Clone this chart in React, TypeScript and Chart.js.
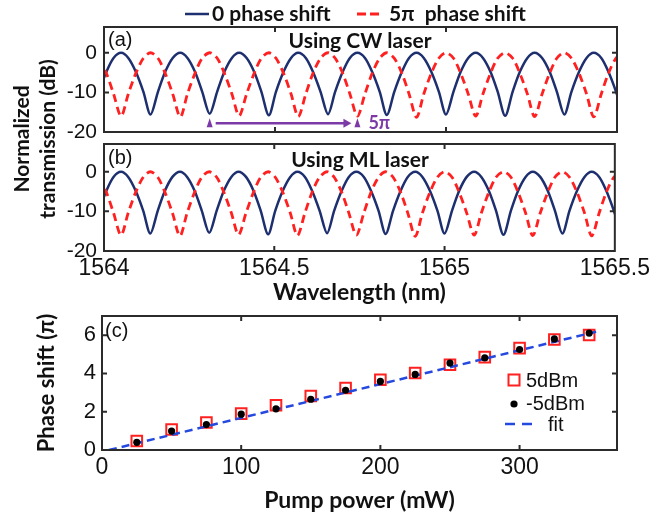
import React, { useEffect, useRef } from "react";
import { Chart, registerables } from "chart.js";
Chart.register(...registerables);

const W = 654;
const H = 514;

// ---------------- Data: panels (a) and (b) ----------------
const wavelength = [
  1563.985, 1564.007, 1564.028, 1564.050, 1564.071, 1564.093, 1564.115, 1564.136,
  1564.158, 1564.179, 1564.201, 1564.223, 1564.244, 1564.266, 1564.287, 1564.309,
  1564.331, 1564.352, 1564.374, 1564.395, 1564.417, 1564.439, 1564.460, 1564.482,
  1564.503, 1564.525, 1564.547, 1564.568, 1564.590, 1564.611, 1564.633, 1564.655,
  1564.676, 1564.698, 1564.719, 1564.741, 1564.763, 1564.784, 1564.806, 1564.827,
  1564.849, 1564.871, 1564.892, 1564.914, 1564.935, 1564.957, 1564.979, 1565.000,
  1565.022, 1565.043, 1565.065, 1565.087, 1565.108, 1565.130, 1565.151, 1565.173,
  1565.195, 1565.216, 1565.238, 1565.259, 1565.281, 1565.303, 1565.324, 1565.346,
  1565.367, 1565.389, 1565.411, 1565.432, 1565.454, 1565.475, 1565.497, 1565.519,
];

const zeroShiftDb = [
  -9.8, -4.8, -1.3, 0, -1.3, -4.8, -9.8, -15.6,
  -9.8, -4.8, -1.3, 0, -1.3, -4.8, -9.8, -15.4,
  -9.8, -4.8, -1.3, 0, -1.3, -4.8, -9.8, -15.8,
  -9.8, -4.8, -1.3, 0, -1.3, -4.8, -9.8, -15.5,
  -9.8, -4.8, -1.3, 0, -1.3, -4.8, -9.8, -15.7,
  -9.8, -4.8, -1.3, 0, -1.3, -4.8, -9.8, -15.6,
  -9.8, -4.8, -1.3, 0, -1.3, -4.8, -9.8, -15.9,
  -9.8, -4.8, -1.3, 0, -1.3, -4.8, -9.8, -15.6,
  -9.8, -4.8, -1.3, 0, -1.3, -4.8, -9.8, -15.7,
];

const fivePiShiftDb = [
  -1.4, -5.2, -10.4, -16.0, -10.4, -5.2, -1.4, 0,
  -1.4, -5.2, -10.4, -16.2, -10.4, -5.2, -1.4, 0,
  -1.4, -5.2, -10.4, -15.9, -10.4, -5.2, -1.4, 0,
  -1.4, -5.2, -10.4, -16.1, -10.4, -5.2, -1.4, 0,
  -1.4, -5.2, -10.4, -16.0, -10.4, -5.2, -1.4, 0,
  -1.4, -5.2, -10.4, -16.3, -10.4, -5.2, -1.4, 0,
  -1.4, -5.2, -10.4, -16.0, -10.4, -5.2, -1.4, 0,
  -1.4, -5.2, -10.4, -16.1, -10.4, -5.2, -1.4, 0,
  -1.4, -5.2, -10.4, -16.2, -10.4, -5.2, -1.4, 0,
];

const wavelengthTicks = [1564, 1564.5, 1565, 1565.5];
const transmissionTicks = [-20, -10, 0];
const arrowWavelengths = [1564.309, 1564.741];
const arrowLevelDb = -17.8;

// ---------------- Data: panel (c) ----------------
const pumpPower = [25, 50, 75, 100, 125, 150, 175, 200, 225, 250, 275, 300, 325, 350];
const shift5dBm = [0.47, 1.07, 1.44, 1.9, 2.34, 2.82, 3.24, 3.67, 4.02, 4.45, 4.85, 5.32, 5.77, 6.01];
const shiftMinus5dBm = [0.4, 0.99, 1.33, 1.87, 2.15, 2.65, 3.12, 3.58, 3.95, 4.54, 4.81, 5.25, 5.8, 6.11];
const fitPower = [5, 355];
const fitShift = [0, 6.18];
const pumpTicks = [0, 100, 200, 300];
const shiftTicks = [0, 2, 4, 6];

// ---------------- Styles ----------------
const NAVY = "#1d2f6f";
const RED = "#ff2020";
const PURPLE = "#7b3aa6";
const FITBLUE = "#2548de";
const FRAME = "#2b2b2b";
const TXT = "#111111";
const TICKFONT = "'Liberation Sans', Arial, sans-serif";
const BOLDFONT = "Lato, 'Liberation Sans', sans-serif";

function txt(ctx: CanvasRenderingContext2D, s: string, x: number, y: number, font: string,
  color = TXT, align: CanvasTextAlign = "left", rot = 0) {
  ctx.save();
  ctx.translate(x, y);
  if (rot) ctx.rotate(rot);
  ctx.font = font;
  ctx.fillStyle = color;
  ctx.textAlign = align;
  ctx.textBaseline = "middle";
  ctx.fillText(s, 0, 0);
  ctx.restore();
}

function drawFrame(chart: any, xTicks: number[], yTicks: number[], len = 5) {
  const { ctx, chartArea: a, scales } = chart;
  ctx.save();
  ctx.strokeStyle = FRAME;
  ctx.lineWidth = 2;
  ctx.setLineDash([]);
  ctx.beginPath();
  for (const v of xTicks) {
    const px = scales.x.getPixelForValue(v);
    if (px < a.left + 2 || px > a.right - 2) continue;
    ctx.moveTo(px, a.bottom); ctx.lineTo(px, a.bottom - len);
    ctx.moveTo(px, a.top); ctx.lineTo(px, a.top + len);
  }
  for (const v of yTicks) {
    const py = scales.y.getPixelForValue(v);
    if (py < a.top + 2 || py > a.bottom - 2) continue;
    ctx.moveTo(a.left, py); ctx.lineTo(a.left + len, py);
    ctx.moveTo(a.right, py); ctx.lineTo(a.right - len, py);
  }
  ctx.stroke();
  ctx.strokeRect(a.left, a.top, a.right - a.left, a.bottom - a.top);
  ctx.restore();
}

function spectrumDatasets() {
  return [
    {
      label: "5π phase shift",
      data: wavelength.map((x, i) => ({ x, y: fivePiShiftDb[i] })),
      borderColor: RED, borderWidth: 2.8, borderDash: [8, 5],
      pointRadius: 0, tension: 0.3, fill: false, order: 0,
    },
    {
      label: "0 phase shift",
      data: wavelength.map((x, i) => ({ x, y: zeroShiftDb[i] })),
      borderColor: NAVY, borderWidth: 2.5,
      pointRadius: 0, tension: 0.3, fill: false, order: 1,
    },
  ];
}

function transYScale(max: number) {
  return {
    type: "linear", min: -20, max,
    afterBuildTicks: (s: any) => { s.ticks = transmissionTicks.map((v) => ({ value: v })); },
    grid: { display: false, drawTicks: false },
    border: { display: false },
    ticks: { font: { family: TICKFONT, size: 21 }, color: TXT, padding: 7, callback: (v: any) => String(v) },
    afterFit: (s: any) => { s.width = 104; },
  };
}

const common = {
  animation: false,
  responsive: false,
  events: [],
  plugins: { legend: { display: false }, tooltip: { enabled: false }, title: { display: false } },
};

export default function App() {
  const refA = useRef<HTMLCanvasElement>(null);
  const refB = useRef<HTMLCanvasElement>(null);
  const refC = useRef<HTMLCanvasElement>(null);

  useEffect(() => {
    const charts: Chart[] = [];

    // ---------- Panel (a) ----------
    const decorA = {
      id: "decorA",
      afterDraw(chart: any) {
        const { ctx, scales } = chart;
        drawFrame(chart, wavelengthTicks, transmissionTicks);
        txt(ctx, "(a)", 108, 40, `20px ${TICKFONT}`);
        txt(ctx, "Using CW laser", 360, 41, `bold 21px ${BOLDFONT}`, TXT, "center");
        // top legend
        ctx.save();
        ctx.lineWidth = 2.5;
        ctx.strokeStyle = NAVY;
        ctx.beginPath(); ctx.moveTo(185, 14); ctx.lineTo(209, 14); ctx.stroke();
        ctx.strokeStyle = RED;
        ctx.lineWidth = 2.8;
        ctx.setLineDash([9, 4]);
        ctx.beginPath(); ctx.moveTo(357, 14); ctx.lineTo(381, 14); ctx.stroke();
        ctx.restore();
        txt(ctx, "0 phase shift", 212, 14, `bold 21px ${BOLDFONT}`);
        txt(ctx, "5π  phase shift", 389, 14, `bold 21px ${BOLDFONT}`);
        // shared y title
        txt(ctx, "Normalized", 22, 139, `bold 21px ${BOLDFONT}`, TXT, "center", -Math.PI / 2);
        txt(ctx, "transmission (dB)", 48, 139, `bold 21px ${BOLDFONT}`, TXT, "center", -Math.PI / 2);
        // arrow annotation
        const x1 = scales.x.getPixelForValue(arrowWavelengths[0]);
        const x2 = scales.x.getPixelForValue(arrowWavelengths[1]);
        const ya = scales.y.getPixelForValue(arrowLevelDb);
        ctx.save();
        ctx.fillStyle = PURPLE;
        ctx.strokeStyle = PURPLE;
        for (const x of [x1, x2]) {
          ctx.beginPath();
          ctx.moveTo(x, ya - 5); ctx.lineTo(x + 3, ya + 4); ctx.lineTo(x - 3, ya + 4); ctx.closePath();
          ctx.fill();
        }
        ctx.lineWidth = 2.5;
        ctx.beginPath(); ctx.moveTo(x1 + 6, ya); ctx.lineTo(x2 - 12, ya); ctx.stroke();
        ctx.beginPath();
        ctx.moveTo(x2 - 6, ya); ctx.lineTo(x2 - 14, ya - 4.5); ctx.lineTo(x2 - 14, ya + 4.5); ctx.closePath();
        ctx.fill();
        ctx.restore();
        txt(ctx, "5π", x2 + 11, ya, `bold 18px ${BOLDFONT}`, PURPLE);
      },
    };

    charts.push(new Chart(refA.current as HTMLCanvasElement, {
      type: "line",
      data: { datasets: spectrumDatasets() as any },
      options: {
        ...common,
        layout: { padding: { left: 0, right: 37, top: 27, bottom: 382 } },
        scales: {
          x: { type: "linear", min: 1564, max: 1565.5, display: false },
          y: transYScale(6.5) as any,
        },
      } as any,
      plugins: [decorA],
    }));

    // ---------- Panel (b) ----------
    const decorB = {
      id: "decorB",
      afterDraw(chart: any) {
        const { ctx } = chart;
        drawFrame(chart, wavelengthTicks, transmissionTicks);
        txt(ctx, "(b)", 108, 158, `20px ${TICKFONT}`);
        txt(ctx, "Using ML laser", 360, 160, `bold 21px ${BOLDFONT}`, TXT, "center");
      },
    };

    charts.push(new Chart(refB.current as HTMLCanvasElement, {
      type: "line",
      data: { datasets: spectrumDatasets() as any },
      options: {
        ...common,
        layout: { padding: { left: 0, right: 37, top: 144, bottom: 208 } },
        scales: {
          x: {
            type: "linear", min: 1564, max: 1565.5,
            afterBuildTicks: (s: any) => { s.ticks = wavelengthTicks.map((v) => ({ value: v })); },
            grid: { display: false, drawTicks: false },
            border: { display: false },
            ticks: { font: { family: TICKFONT, size: 23 }, color: TXT, padding: 4, maxRotation: 0, autoSkip: false, callback: (v: any) => String(v) },
            title: { display: true, text: "Wavelength (nm)", color: TXT, font: { family: BOLDFONT, size: 23, weight: "bold" }, padding: 0 },
            afterFit: (s: any) => { s.height = 55; },
          },
          y: transYScale(7) as any,
        },
      } as any,
      plugins: [decorB],
    }));

    // ---------- Panel (c) ----------
    const decorC = {
      id: "decorC",
      afterDraw(chart: any) {
        const { ctx } = chart;
        drawFrame(chart, pumpTicks, shiftTicks);
        txt(ctx, "(c)", 105, 331, `20px ${TICKFONT}`);
        ctx.save();
        ctx.strokeStyle = RED; ctx.lineWidth = 2;
        ctx.strokeRect(508.5, 374.5, 11, 11);
        ctx.fillStyle = "#000";
        ctx.beginPath(); ctx.arc(514, 404, 3.6, 0, Math.PI * 2); ctx.fill();
        ctx.strokeStyle = FITBLUE; ctx.lineWidth = 2.5; ctx.setLineDash([10, 7]);
        ctx.beginPath(); ctx.moveTo(505, 424); ctx.lineTo(532, 424); ctx.stroke();
        ctx.restore();
        txt(ctx, "5dBm", 526, 381, `20px ${TICKFONT}`);
        txt(ctx, "-5dBm", 526, 404, `20px ${TICKFONT}`);
        txt(ctx, "fit", 548, 425, `20px ${TICKFONT}`);
      },
    };

    charts.push(new Chart(refC.current as HTMLCanvasElement, {
      type: "line",
      data: {
        datasets: [
          {
            label: "-5dBm",
            data: pumpPower.map((x, i) => ({ x, y: shiftMinus5dBm[i] })),
            showLine: false, pointRadius: 3.6, pointBackgroundColor: "#000", pointBorderColor: "#000",
            pointBorderWidth: 0, order: 0,
          },
          {
            label: "fit",
            data: fitPower.map((x, i) => ({ x, y: fitShift[i] })),
            borderColor: FITBLUE, borderWidth: 2.5, borderDash: [8, 5], pointRadius: 0, tension: 0, order: 1,
          },
          {
            label: "5dBm",
            data: pumpPower.map((x, i) => ({ x, y: shift5dBm[i] })),
            showLine: false, pointStyle: "rect", pointRadius: 7.5, pointBackgroundColor: "rgba(0,0,0,0)",
            pointBorderColor: RED, pointBorderWidth: 2, order: 2,
          },
        ] as any,
      },
      options: {
        ...common,
        layout: { padding: { left: 0, right: 37, top: 316, bottom: 0 } },
        scales: {
          x: {
            type: "linear", min: 0, max: 370,
            afterBuildTicks: (s: any) => { s.ticks = pumpTicks.map((v) => ({ value: v })); },
            grid: { display: false, drawTicks: false },
            border: { display: false },
            ticks: { font: { family: TICKFONT, size: 23 }, color: TXT, padding: 4, maxRotation: 0, autoSkip: false, callback: (v: any) => String(v) },
            title: { display: true, text: "Pump power (mW)", color: TXT, font: { family: BOLDFONT, size: 23, weight: "bold" }, padding: 0 },
            afterFit: (s: any) => { s.height = 64; },
          },
          y: {
            type: "linear", min: 0, max: 7,
            afterBuildTicks: (s: any) => { s.ticks = shiftTicks.map((v) => ({ value: v })); },
            grid: { display: false, drawTicks: false },
            border: { display: false },
            ticks: { font: { family: TICKFONT, size: 22 }, color: TXT, padding: 6, callback: (v: any) => String(v) },
            title: { display: true, text: "Phase shift (π)", color: TXT, font: { family: BOLDFONT, size: 22, weight: "bold" }, padding: { top: 34, bottom: 0 } },
            afterFit: (s: any) => { s.width = 102; },
          },
        },
      } as any,
      plugins: [decorC],
    }));

    return () => { charts.forEach((c) => c.destroy()); };
  }, []);

  const cs: React.CSSProperties = { position: "absolute", left: 0, top: 0, width: W, height: H, display: "block" };
  return (
    <div style={{ position: "absolute", left: 0, top: 0, width: W, height: H, background: "#fff", overflow: "hidden" }}>
      <canvas ref={refA} width={W} height={H} style={cs} />
      <canvas ref={refB} width={W} height={H} style={cs} />
      <canvas ref={refC} width={W} height={H} style={cs} />
    </div>
  );
}
